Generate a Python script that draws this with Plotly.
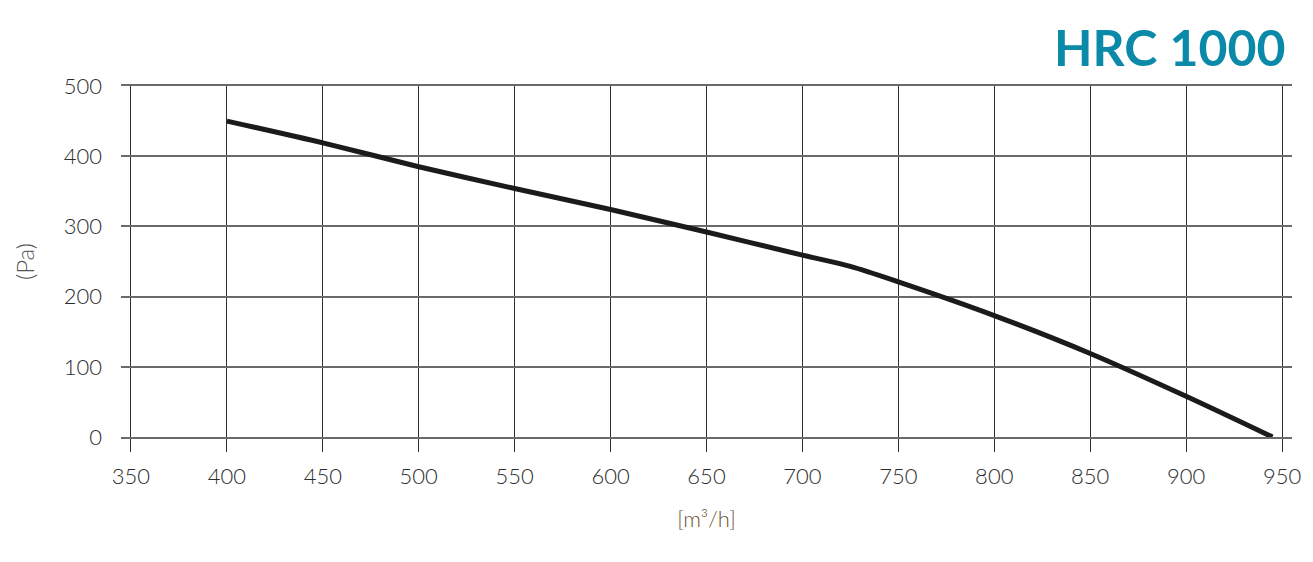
import plotly.graph_objects as go

# Data
airflow = [400, 450, 500, 550, 600, 650, 700, 725, 750, 800, 850, 900, 945]
pressure = [450, 419, 385, 354, 324, 292, 259, 243, 221, 173, 119, 58, 0]

x_ticks = [350, 400, 450, 500, 550, 600, 650, 700, 750, 800, 850, 900, 950]
y_ticks = [0, 100, 200, 300, 400, 500]

title_text = "HRC 1000"
x_title = "[m³/h]"
y_title = "(Pa)"

fig = go.Figure()
fig.add_trace(go.Scatter(
    x=airflow, y=pressure, mode="lines",
    line=dict(color="#1b1b1b", width=5, shape="spline", smoothing=0.8),
    showlegend=False, hoverinfo="skip",
))

tick_font = dict(family="Lato", size=22, color="#2c2c2c", weight=300)

fig.update_layout(
    width=1313, height=562,
    margin=dict(l=121, r=18, t=86, b=125),
    paper_bgcolor="white", plot_bgcolor="white",
    font=dict(family="Lato"),
    xaxis=dict(
        range=[344.8, 955.2],
        tickvals=x_ticks,
        ticktext=[str(v) for v in x_ticks],
        showgrid=True, gridcolor="#2e2e2e", gridwidth=1.3,
        zeroline=False,
        showline=True, mirror=True, linecolor="#6a6a6a", linewidth=1.5,
        ticks="outside", ticklen=13, tickcolor="#2e2e2e", tickwidth=1.3,
        tickfont=tick_font,
        ticklabelstandoff=6,
        title=dict(text=x_title, font=dict(family="Lato", size=22, color="#6e4f33", weight=300), standoff=23),
    ),
    yaxis=dict(
        range=[0, 500],
        tickvals=y_ticks,
        ticktext=[str(v) for v in y_ticks],
        showgrid=True, gridcolor="#6a6a6a", gridwidth=1.5,
        zeroline=False,
        showline=False,
        ticks="",
        tickfont=tick_font,
        ticklabelstandoff=18,
        title=dict(text=y_title, font=dict(family="Lato", size=24, color="#555555", weight=300), standoff=22),
    ),
    annotations=[dict(
        text="<b>" + title_text + "</b>",
        xref="paper", yref="paper",
        x=0.996, y=1.112, xanchor="right", yanchor="middle",
        showarrow=False,
        font=dict(family="Lato", size=50, color="#0a8aa8"),
    )],
)

fig.write_html("out.html")
